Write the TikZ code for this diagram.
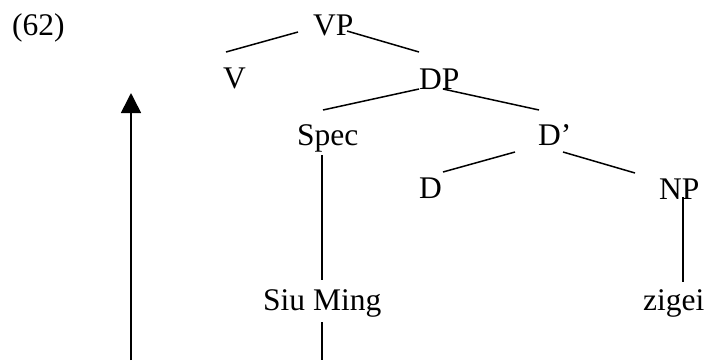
\documentclass[tikz,border=0pt]{standalone}
\usepackage{fontspec}
\setmainfont{Liberation Serif}
\usetikzlibrary{arrows.meta}
\begin{document}
\begin{tikzpicture}[x=1pt,y=-1pt,
  lbl/.style={anchor=base west,inner sep=0pt,font=\fontsize{31.5}{36}\selectfont},
  branch/.style={line width=1.5pt},
  mover/.style={line width=1.6pt,-{Triangle[width=20pt,length=20pt]}}]
\useasboundingbox (0,0) rectangle (706,360);

% example number
\node[lbl] (num) at (12,35) {(62)};

% tree labels
\node[lbl] (vp)   at (313,35)  {VP};
\node[lbl] (v)    at (223,88)  {V};
\node[lbl] (dp)   at (419,89)  {DP};
\node[lbl] (spec) at (297,145) {Spec};
\node[lbl] (dbar) at (538,145) {D’};
\node[lbl] (d)    at (419,198) {D};
\node[lbl] (np)   at (659,199) {NP};
\node[lbl] (siu)  at (263,310) {Siu Ming};
\node[lbl] (zig)  at (643,310) {zigei};

% branch end points
\coordinate (vpL) at (298,32);  \coordinate (vL) at (226,52);
\coordinate (vpR) at (347,31);  \coordinate (dpT) at (419,52);
\coordinate (dpL) at (419,89);  \coordinate (specT) at (323,110);
\coordinate (dpR) at (443,89);  \coordinate (dbarT) at (539,110);
\coordinate (dbarL) at (515,152); \coordinate (dT) at (443,172);
\coordinate (dbarR) at (563,152); \coordinate (npT) at (635,173);
\coordinate (specB) at (322,155); \coordinate (siuT) at (322,280);
\coordinate (siuB) at (322,322); \coordinate (siuEnd) at (322,360);
\coordinate (npB) at (683,197); \coordinate (zigT) at (683,282);
\coordinate (arrFoot) at (131,360); \coordinate (arrTip) at (131,93);

% branches
\draw[branch] (vpL) -- (vL);
\draw[branch] (vpR) -- (dpT);
\draw[branch] (dpL) -- (specT);
\draw[branch] (dpR) -- (dbarT);
\draw[branch] (dbarL) -- (dT);
\draw[branch] (dbarR) -- (npT);
\draw[branch] (specB) -- (siuT);
\draw[branch] (siuB) -- (siuEnd);
\draw[branch] (npB) -- (zigT);

% movement arrow
\draw[mover] (arrFoot) -- (arrTip);
\end{tikzpicture}
\end{document}
